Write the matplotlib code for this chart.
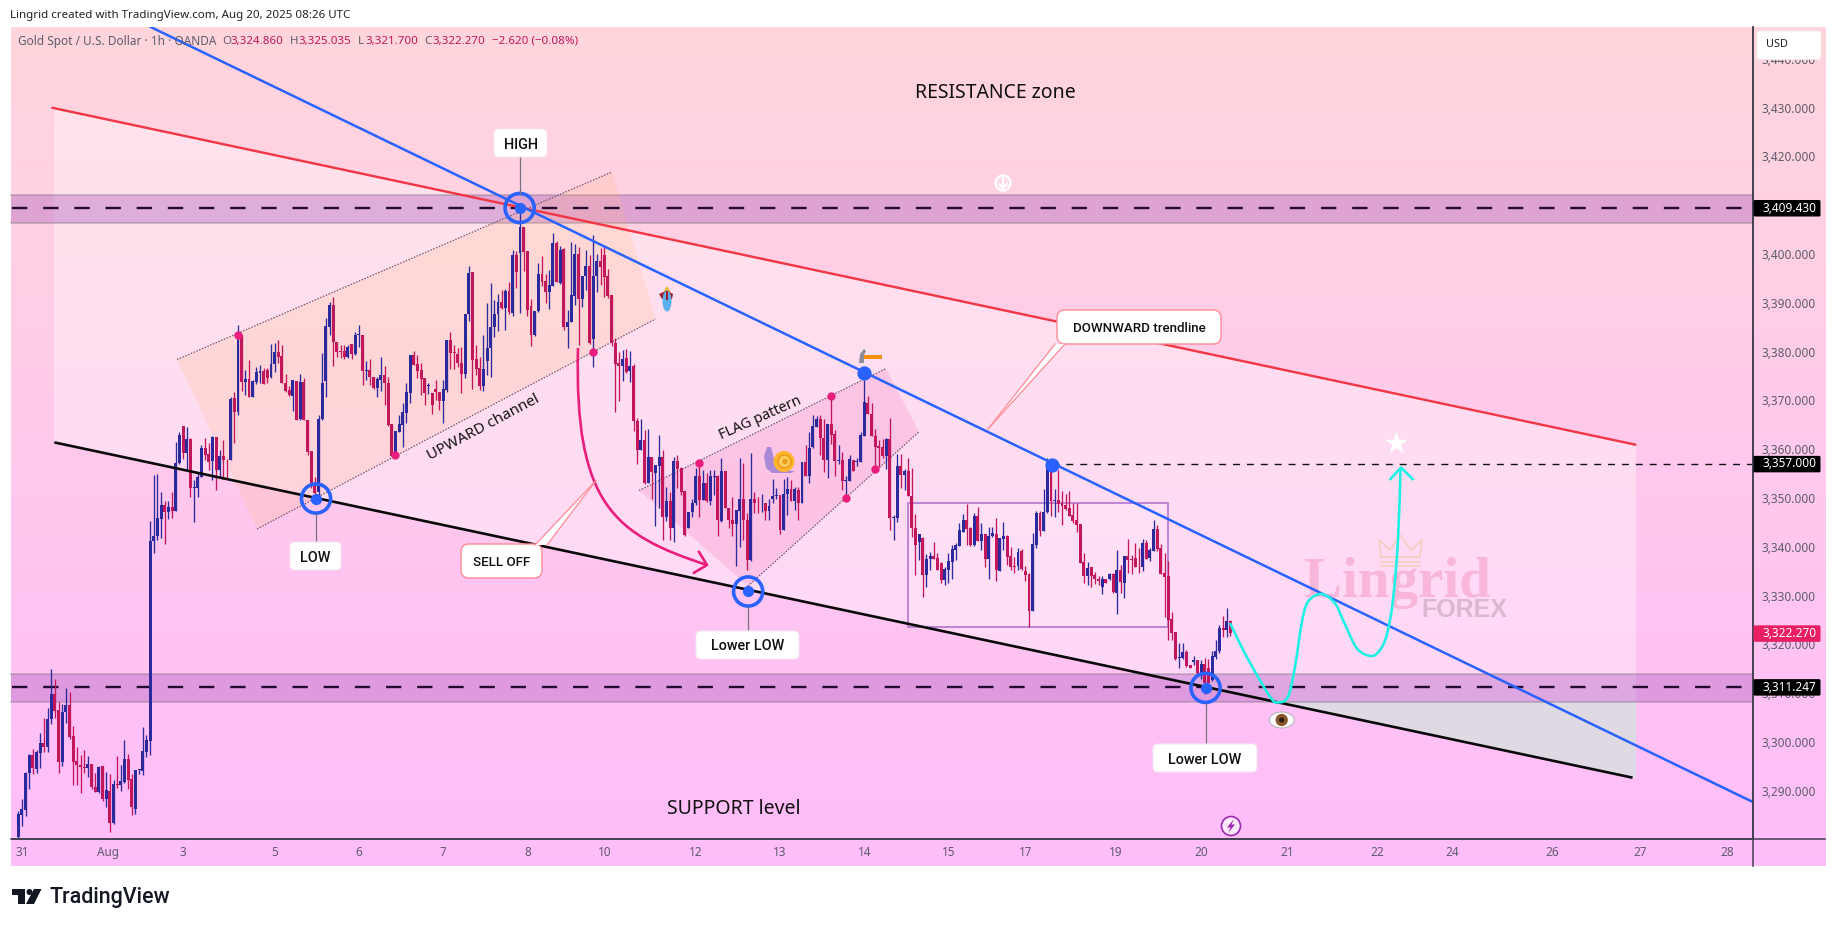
import numpy as np
import matplotlib
matplotlib.use("Agg")
import matplotlib.pyplot as plt
from matplotlib.patches import Polygon, Rectangle, FancyBboxPatch, Circle, Ellipse, PathPatch
from matplotlib.path import Path

plt.rcParams['font.family'] = ['Noto Sans', 'DejaVu Sans']

# ---- hourly candles ----
opens = [
3280.5,3285.1,3286.1,3293.6,3297.4,3294.5,3297.8,3299.7,3298.9,3304.7,
3309.9,3306.6,3296.0,3306.1,3307.6,3301.2,3296.1,3295.3,3294.9,3294.7,
3295.4,3290.7,3289.8,3295.1,3288.3,3290.0,3283.4,3291.5,3291.2,3291.9,
3296.5,3292.4,3286.3,3294.3,3294.1,3298.0,3300.3,3341.1,3342.2,3345.6,
3348.6,3347.2,3348.1,3347.4,3357.1,3364.8,3359.3,3362.1,3352.1,3352.1,
3354.4,3360.3,3359.0,3357.5,3362.6,3355.8,3358.6,3357.8,3357.8,3370.4,
3367.6,3383.4,3373.8,3374.4,3370.8,3373.8,3375.7,3376.0,3376.2,3374.7,
3377.4,3379.9,3379.1,3373.5,3372.1,3371.0,3374.0,3366.1,3373.7,3366.0,
3359.6,3352.7,3351.3,3366.1,3374.0,3385.1,3389.6,3382.0,3380.1,3380.1,
3379.0,3381.5,3379.5,3383.4,3383.4,3376.1,3376.2,3374.7,3372.5,3374.2,
3375.2,3373.5,3365.1,3358.8,3363.6,3365.0,3367.5,3371.6,3379.3,3377.5,
3376.2,3374.5,3373.0,3371.6,3372.3,3371.8,3369.9,3372.1,3382.4,3379.8,
3379.6,3377.6,3375.5,3387.8,3396.4,3378.5,3376.6,3373.0,3378.1,3380.7,
3385.0,3387.8,3390.1,3388.9,3392.4,3388.0,3399.9,3400.3,3405.5,3400.6,
3389.3,3383.4,3388.4,3396.0,3394.5,3392.3,3393.5,3402.3,3394.1,3401.0,
3385.0,3386.1,3391.5,3400.1,3390.7,3395.4,3397.5,3382.6,3395.4,3398.6,
3399.8,3395.4,3391.6,3381.7,3377.7,3377.1,3378.6,3376.0,3377.1,3365.8,
3359.8,3361.9,3353.1,3358.5,3355.2,3356.6,3358.5,3346.2,3349.4,3343.8,
3357.6,3356.1,3351.5,3343.8,3347.2,3348.9,3354.5,3349.6,3353.1,3349.3,
3354.4,3354.5,3345.2,3355.6,3347.9,3345.4,3344.6,3347.4,3349.7,3345.4,
3337.3,3349.7,3349.0,3348.9,3348.9,3347.4,3349.8,3350.5,3350.6,3343.4,
3350.8,3351.9,3349.4,3351.7,3349.0,3357.4,3354.6,3360.4,3364.6,3366.1,
3362.2,3357.8,3365.1,3363.1,3357.6,3357.8,3353.5,3353.5,3357.8,3357.3,
3357.4,3362.8,3369.4,3367.3,3362.8,3360.6,3360.4,3358.6,3362.1,3345.9,
3345.9,3356.6,3354.7,3355.5,3350.4,3343.9,3341.0,3341.9,3334.2,3337.5,
3338.1,3337.8,3336.7,3333.2,3335.2,3336.9,3339.4,3340.2,3343.1,3345.5,
3343.8,3340.4,3346.4,3341.2,3342.7,3337.5,3342.2,3342.6,3335.1,3341.6,
3342.3,3338.1,3336.0,3336.0,3339.1,3335.0,3334.4,3326.9,3340.4,3347.0,
3343.3,3347.1,3356.1,3349.4,3349.6,3348.9,3348.6,3347.9,3346.5,3345.5,
3344.7,3336.9,3334.0,3335.8,3334.2,3333.5,3331.7,3333.5,3333.4,3334.4,
3330.6,3335.2,3332.6,3338.1,3337.6,3337.8,3335.9,3335.9,3340.7,3337.8,
3339.2,3343.6,3339.7,3334.6,3334.0,3325.3,3322.5,3317.3,3317.3,3318.4,
3315.8,3316.4,3316.8,3314.2,3316.0,3315.1,3312.7,3317.5,3318.7,3323.4,3323.0,3324.86]
closes = [
3285.3,3286.3,3293.6,3297.4,3294.6,3298.0,3299.7,3298.9,3304.7,3309.9,
3306.4,3296.0,3306.1,3307.6,3301.1,3296.0,3295.2,3294.8,3294.7,3295.4,
3290.7,3289.8,3294.8,3288.3,3290.2,3283.5,3291.5,3291.2,3292.0,3296.5,
3292.2,3286.6,3294.3,3294.4,3298.2,3300.4,3341.2,3342.2,3345.9,3348.6,
3347.2,3348.1,3347.4,3357.1,3362.9,3359.2,3362.1,3352.1,3352.2,3354.4,
3360.3,3358.8,3357.4,3362.6,3355.8,3358.6,3357.8,3357.7,3370.3,3367.6,
3383.6,3373.8,3374.4,3370.8,3374.0,3375.9,3376.0,3373.4,3374.5,3377.5,
3379.9,3379.0,3373.6,3372.0,3371.1,3374.2,3366.0,3373.7,3366.0,3359.5,
3352.7,3351.1,3366.1,3373.5,3385.3,3389.6,3382.0,3380.0,3380.0,3379.0,
3381.0,3379.5,3383.4,3383.5,3376.1,3376.2,3374.7,3372.5,3374.3,3375.2,
3373.5,3365.0,3358.6,3363.8,3365.2,3367.6,3371.7,3379.3,3377.3,3376.1,
3374.4,3371.6,3373.2,3369.1,3371.8,3369.9,3372.3,3382.4,3379.7,3379.7,
3377.6,3375.5,3387.8,3396.2,3378.3,3376.4,3373.0,3376.4,3380.7,3385.0,
3387.8,3390.1,3388.9,3392.4,3388.2,3399.9,3396.4,3405.5,3400.5,3388.5,
3383.5,3388.3,3396.0,3394.3,3392.3,3393.7,3402.3,3394.3,3400.8,3385.1,
3386.0,3391.6,3400.1,3390.7,3395.5,3397.5,3381.7,3395.5,3398.6,3397.4,
3395.2,3391.3,3381.7,3377.5,3377.1,3378.5,3375.8,3377.1,3365.7,3359.8,
3361.9,3353.0,3358.5,3355.3,3356.8,3358.4,3346.2,3349.4,3343.8,3357.6,
3355.9,3351.3,3342.4,3347.2,3348.9,3354.5,3349.6,3353.0,3349.4,3354.5,
3354.5,3345.5,3355.6,3347.9,3345.4,3344.6,3347.5,3349.7,3345.4,3337.3,
3349.7,3348.9,3348.9,3349.0,3347.4,3348.4,3350.5,3350.6,3343.4,3350.8,
3351.9,3349.4,3351.9,3349.0,3357.4,3354.6,3360.2,3364.8,3366.2,3362.2,
3357.8,3365.1,3362.9,3357.6,3357.8,3353.5,3353.6,3358.0,3355.6,3357.6,
3362.9,3369.6,3367.3,3362.8,3360.5,3360.3,3358.6,3362.1,3345.9,3346.0,
3356.6,3354.7,3355.5,3350.4,3343.9,3340.4,3342.7,3334.2,3337.6,3338.1,
3337.6,3335.2,3333.2,3335.4,3337.1,3339.5,3340.4,3343.4,3345.5,3343.6,
3340.4,3346.4,3341.2,3342.6,3337.6,3342.2,3342.8,3335.2,3341.9,3342.2,
3338.0,3335.9,3335.9,3339.0,3335.4,3334.2,3326.9,3340.5,3346.9,3343.3,
3347.1,3356.4,3349.4,3349.6,3348.8,3348.4,3347.7,3346.3,3345.3,3344.5,
3336.7,3334.0,3335.6,3334.0,3333.5,3332.9,3333.5,3332.6,3334.4,3330.7,
3335.2,3332.8,3338.1,3337.4,3337.4,3335.8,3335.8,3340.7,3337.6,3339.3,
3343.6,3339.5,3334.4,3333.9,3325.0,3322.4,3317.1,3317.4,3318.4,3315.6,
3315.2,3316.9,3314.2,3316.0,3312.0,3312.0,3317.6,3318.7,3323.3,3323.0,3324.8,3322.27]
highs = [
3285.8,3288.3,3293.9,3297.6,3298.6,3298.4,3301.9,3304.9,3306.9,3315.0,
3312.9,3308.2,3307.7,3311.0,3310.2,3303.2,3299.0,3297.4,3298.4,3297.1,
3295.6,3293.6,3295.1,3295.1,3293.8,3293.5,3292.2,3297.2,3295.3,3300.4,
3297.6,3293.5,3294.3,3294.5,3303.0,3301.4,3345.3,3354.7,3355.0,3351.2,
3349.4,3349.4,3351.2,3361.4,3363.5,3364.8,3364.5,3362.4,3353.7,3355.3,
3360.9,3362.2,3361.2,3362.8,3362.6,3359.9,3361.9,3358.0,3370.8,3371.8,
3385.5,3383.4,3376.2,3378.3,3374.2,3376.9,3377.3,3376.6,3376.6,3381.6,
3381.7,3382.4,3381.4,3375.4,3372.9,3374.2,3374.0,3375.4,3374.5,3366.0,
3359.6,3354.4,3367.0,3379.8,3386.8,3390.2,3391.2,3382.0,3381.4,3381.4,
3381.4,3381.5,3384.1,3385.5,3383.4,3378.0,3378.4,3374.8,3374.8,3378.9,
3377.1,3374.9,3365.2,3363.8,3367.0,3369.4,3373.5,3379.3,3380.1,3379.3,
3377.6,3374.5,3373.5,3371.6,3374.2,3371.8,3374.2,3382.4,3384.1,3381.4,
3380.7,3381.0,3387.8,3397.5,3396.4,3381.4,3378.8,3383.4,3389.9,3394.0,
3390.6,3391.9,3392.6,3392.8,3394.2,3400.8,3400.6,3409.4,3405.5,3400.6,
3390.7,3388.3,3398.2,3399.6,3396.0,3396.7,3404.4,3402.7,3401.6,3401.2,
3388.5,3402.5,3402.0,3401.4,3395.5,3400.8,3399.8,3403.9,3400.1,3401.2,
3401.6,3397.0,3391.6,3382.7,3379.9,3380.3,3380.5,3380.1,3377.4,3366.3,
3366.2,3364.0,3364.1,3358.5,3356.8,3362.9,3359.8,3352.3,3351.3,3358.5,
3358.8,3356.4,3351.5,3347.2,3349.7,3356.1,3357.1,3355.7,3355.2,3355.7,
3355.7,3354.8,3358.1,3355.6,3347.9,3350.3,3347.5,3358.1,3357.1,3346.9,
3359.2,3351.3,3350.2,3350.8,3348.9,3349.9,3353.8,3352.0,3350.6,3354.0,
3354.4,3353.7,3352.3,3352.3,3357.4,3360.9,3363.6,3367.0,3366.8,3367.0,
3366.1,3365.1,3370.9,3363.9,3360.9,3359.5,3354.5,3358.8,3357.8,3358.1,
3363.6,3374.2,3370.9,3369.4,3364.1,3361.9,3362.0,3362.4,3366.5,3346.6,
3359.1,3359.1,3356.0,3358.3,3356.1,3346.7,3342.7,3342.0,3338.5,3339.0,
3340.9,3338.7,3336.9,3335.9,3338.8,3340.4,3340.8,3344.8,3346.7,3348.7,
3344.1,3346.9,3348.1,3344.9,3342.7,3344.0,3344.1,3346.0,3341.9,3345.1,
3342.4,3340.0,3338.0,3339.7,3339.5,3336.0,3334.6,3342.8,3347.3,3347.3,
3351.8,3358.3,3357.8,3351.8,3355.7,3351.5,3350.9,3351.5,3348.9,3348.9,
3344.7,3338.8,3336.9,3335.9,3334.9,3334.0,3334.0,3333.5,3334.7,3334.6,
3339.3,3336.2,3338.1,3341.6,3338.3,3340.8,3339.7,3341.7,3341.4,3339.7,
3345.5,3344.5,3340.6,3338.8,3337.0,3326.6,3322.5,3320.2,3320.2,3318.9,
3315.8,3317.6,3316.8,3316.9,3317.2,3317.1,3318.7,3320.9,3324.0,3325.8,3327.4,3325.035]
lows = [
3280.0,3282.8,3284.9,3290.4,3293.5,3293.6,3294.6,3297.9,3297.9,3303.7,
3304.9,3293.7,3295.0,3304.0,3300.7,3291.2,3291.2,3289.6,3293.6,3292.9,
3290.4,3289.8,3289.5,3288.0,3286.6,3281.6,3283.2,3290.5,3290.0,3291.7,
3290.4,3285.1,3285.3,3293.5,3293.3,3297.0,3297.4,3338.8,3341.5,3341.8,
3340.6,3345.8,3346.0,3347.4,3357.0,3358.0,3355.8,3350.3,3345.0,3350.3,
3354.4,3357.7,3355.8,3353.6,3351.7,3354.4,3354.0,3354.0,3357.7,3361.2,
3367.0,3372.0,3371.1,3370.6,3370.6,3373.4,3373.5,3373.4,3373.6,3374.6,
3375.9,3377.6,3373.6,3371.8,3370.9,3367.8,3365.9,3366.0,3366.0,3358.8,
3352.0,3350.6,3350.3,3366.0,3370.6,3383.4,3377.1,3379.0,3378.6,3378.4,
3378.6,3378.4,3379.3,3381.0,3373.1,3374.2,3373.1,3372.3,3370.8,3372.0,
3369.1,3364.8,3358.5,3358.5,3363.6,3360.4,3365.4,3369.4,3377.2,3374.5,
3371.1,3369.1,3371.4,3367.2,3370.1,3368.0,3365.3,3371.8,3376.4,3376.4,
3376.8,3371.6,3374.5,3386.3,3372.3,3375.2,3372.1,3371.9,3375.2,3374.9,
3382.9,3384.3,3388.7,3384.4,3387.7,3387.4,3393.0,3388.0,3396.6,3387.2,
3381.2,3383.2,3388.2,3393.4,3390.0,3388.7,3393.4,3394.3,3393.9,3384.4,
3380.7,3386.0,3389.6,3381.4,3389.1,3392.6,3381.5,3376.8,3392.3,3393.6,
3391.1,3390.9,3381.1,3367.7,3369.9,3374.0,3375.7,3373.8,3363.8,3357.0,
3359.8,3352.9,3353.0,3349.7,3344.3,3347.9,3341.4,3345.2,3341.4,3341.0,
3352.0,3350.6,3342.2,3343.8,3346.2,3348.6,3346.2,3349.6,3349.2,3348.6,
3350.6,3342.3,3345.1,3347.9,3343.8,3342.3,3336.1,3340.0,3341.4,3335.3,
3337.0,3346.9,3346.9,3347.2,3345.5,3345.5,3349.0,3349.7,3342.6,3343.4,
3346.5,3349.4,3347.5,3345.5,3348.9,3354.6,3353.0,3360.2,3364.5,3358.8,
3355.4,3354.2,3361.0,3354.5,3357.0,3351.6,3350.1,3353.4,3355.6,3356.5,
3357.3,3362.7,3367.3,3362.8,3356.1,3356.4,3358.1,3355.9,3343.4,3341.4,
3345.1,3352.0,3351.6,3350.4,3342.1,3334.2,3337.3,3329.8,3331.8,3335.2,
3337.6,3335.2,3332.5,3332.2,3332.5,3333.5,3337.3,3340.2,3343.0,3340.4,
3340.2,3340.2,3341.2,3339.3,3335.9,3333.5,3342.0,3333.0,3335.0,3339.3,
3336.3,3335.2,3334.7,3335.2,3335.2,3333.1,3323.6,3326.9,3339.7,3342.2,
3343.3,3346.9,3346.4,3346.2,3347.2,3344.5,3347.5,3346.3,3344.8,3343.1,
3336.6,3332.6,3332.2,3331.8,3332.4,3332.2,3330.3,3332.6,3333.2,3330.5,
3326.2,3330.5,3329.6,3334.6,3334.4,3335.8,3334.7,3335.1,3337.6,3337.0,
3339.2,3339.2,3334.4,3325.7,3320.9,3320.9,3316.9,3315.1,3317.1,3315.4,
3315.1,3315.8,3313.7,3313.0,3309.9,3310.2,3312.5,3317.1,3318.2,3321.6,3321.6,3321.7]

# ---- axis labels ----
time_labels = ['31','Aug','3','5','6','7','8','10','12','13','14','15','17','19','20','21','22','24','26','27','28']
time_idx = [1,24.4,45,70,93,116,139,160,185,208,231,254,275,299.6,323,346.5,371,391.6,419,443,466.6]
price_ticks = list(range(3290, 3450, 10))

# ---- levels and trendlines (bar index, price) ----
level_high, level_low, level_target, last_close = 3409.43, 3311.247, 3357.0, 3322.27
red_x, red_y = [9.06, 441.8], [3430.0, 3360.9]
black_x, black_y = [9.83, 440.8], [3361.4, 3292.7]
blue_x, blue_y = [36.2, 473.7], [3446.5, 3287.7]
ring_x, ring_y = [136.9, 81.3, 199.3, 324.2], [3409.43, 3349.9, 3330.85, 3311.1]
bdot_x, bdot_y = [231.0, 282.2], [3375.6, 3356.7]
pdot_x = [60.1, 103, 157, 186, 222, 226, 234]
pdot_y = [3383.5, 3358.8, 3379.9, 3357.1, 3371.0, 3350.1, 3355.9]

W, H = 1835, 927
UP, DOWN = '#2a2a9c', '#c2185b'
fig = plt.figure(figsize=(W/100, H/100), dpi=100, facecolor='white')

def full_ax(z):
    a = fig.add_axes([0, 0, 1, 1], zorder=z)
    a.set_xlim(0, W); a.set_ylim(H, 0); a.axis('off'); a.patch.set_alpha(0)
    return a

bg = full_ax(0)
ov = full_ax(5)

# gradient panel
grad = np.zeros((256, 1, 3))
c0, c1 = np.array([255, 214, 220])/255, np.array([255, 189, 251])/255
for i in range(256):
    grad[i, 0] = c0 + (c1-c0)*i/255
bg.imshow(grad, extent=(11, 1825, 866, 27), aspect='auto', zorder=0)
bg.set_xlim(0, W); bg.set_ylim(H, 0)

# wedge between the red and black lines
bg.add_patch(Polygon([(54,108),(1636,445),(1636,778),(54,442)], fc='white', alpha=.36, ec='none', zorder=1))
bg.add_patch(Polygon([(1278,702),(1636,702),(1636,778)], fc='#dfd9e3', ec='none', zorder=1.5))
# zones: fill plus rules on the long sides only
for top, bot in [(195, 222.7), (674.3, 701.7)]:
    bg.add_patch(Rectangle((11, top), 1742, bot-top, fc=(160/255, 72/255, 183/255, .33), ec='none', zorder=2))
    bg.plot([11, 1753], [top, top], color=(110/255, 110/255, 120/255, .4), lw=1.2, zorder=2.1)
    bg.plot([11, 1753], [bot, bot], color=(110/255, 110/255, 120/255, .4), lw=1.2, zorder=2.1)
# upward channel, flag, range box
chan = [(177,359.5),(612,172),(655.5,319),(257,529)]
bg.add_patch(Polygon(chan, fc=(255/255, 180/255, 110/255, .18), ec='none', zorder=3))
flag = [(639,490.5),(886,368.5),(919,431.8),(748,586)]
bg.add_patch(Polygon(flag, fc=(240/255, 90/255, 170/255, .18), ec='none', zorder=3))
for a, b in [(chan[0], chan[1]), (chan[3], chan[2]), (flag[0], flag[1]), (flag[3], flag[2])]:
    bg.plot([a[0], b[0]], [a[1], b[1]], color='#6f5a6f', lw=.9, ls=(0, (1.2, 1.2)), zorder=4)
bg.add_patch(Rectangle((908.3, 503.3), 260, 124, fc=(1, 1, 1, .16), ec='#bd84d4', lw=1.4, zorder=3))

# watermark
bg.text(1304, 597, 'Lingrid', family='Liberation Serif', weight='bold', fontsize=41, color='#f8b6d8', ha='left', va='baseline', zorder=4)
bg.text(1421, 617, 'FOREX', family='Liberation Sans', weight='bold', fontsize=18, color='#d9b9cf', ha='left', va='baseline', zorder=4)
bg.plot([1381,1379,1390,1400,1411,1422,1420,1381], [557,540,550,535,550,540,557,557], color='#f5cdbf', lw=1.2, zorder=4)
bg.plot([1381,1420], [561.5,561.5], color='#f5cdbf', lw=1.2, zorder=4)
bg.plot([1381,1420], [566,566], color='#f5cdbf', lw=1.2, zorder=4)

# ---- price chart ----
ax = fig.add_axes([12/W, 1-839/H, (1753-12)/W, (839-27)/H], zorder=1)
ax.patch.set_alpha(0)
ax.set_xlim(-1.72, 473.7)
ax.set_ylim(3280.13, 3446.52)
for s in ('top', 'left'):
    ax.spines[s].set_visible(False)
for s in ('right', 'bottom'):
    ax.spines[s].set_color('#3d3d4d'); ax.spines[s].set_linewidth(1.1)

ax.hlines([level_high, level_low], -1.72, 473.7, color='#220a30', lw=1.7, ls=(0, (6.5, 6.7)), zorder=1.5)
ax.plot([282.2, 473.7], [level_target, level_target], color='#111111', lw=1.0, ls=(0, (5, 5)), zorder=1.5)

o, c, h, l = map(np.array, (opens, closes, highs, lows))
xs = np.arange(len(o))
cols = [UP if cc >= oo else DOWN for oo, cc in zip(o, c)]
ax.vlines(xs, l, h, colors=cols, lw=.95, zorder=2)
ax.bar(xs, np.maximum(np.abs(c-o), .15), bottom=np.minimum(o, c), width=.8, color=cols, lw=0, zorder=2.1)

ax.plot(red_x, red_y, color='#f23645', lw=1.7, zorder=3, solid_capstyle='butt')
ax.plot(black_x, black_y, color='#0a0a0a', lw=1.9, zorder=3, solid_capstyle='butt')
ax.plot(blue_x, blue_y, color='#2962ff', lw=1.8, zorder=3)

ax.scatter(pdot_x, pdot_y, s=36, color='#e91e7d', lw=0, zorder=4)
ax.scatter(bdot_x, bdot_y, s=105, color='#2962ff', lw=0, zorder=4.5)
ax.scatter(ring_x, ring_y, s=66, color='#2962ff', lw=0, zorder=4.5)
ax.scatter(ring_x, ring_y, s=440, facecolor='none', edgecolor='#2962ff', lw=2.6, zorder=4.5)

ax.yaxis.tick_right()
ax.set_yticks(price_ticks)
ax.set_yticklabels([f'{p:,}.000' for p in price_ticks], va='center_baseline')
ax.set_xticks(time_idx)
ax.set_xticklabels(time_labels)
ax.tick_params(axis='y', length=0, pad=6.4, labelsize=8.5, labelcolor='#5c5c6b')
ax.tick_params(axis='x', length=0, pad=5.0, labelsize=8.5, labelcolor='#5c5c6b')

# ---- overlay: rules, labels, callouts, drawings ----
ov.plot([11, 1825], [839, 839], color='#3d3d4d', lw=1.1, zorder=1)
ov.plot([1753, 1753], [27, 866], color='#3d3d4d', lw=1.1, zorder=1)

def box(x0, y0, x1, y1, ec='#f6e6f2', r=5, lw=.8):
    ov.add_patch(FancyBboxPatch((x0+r, y0+r), x1-x0-2*r, y1-y0-2*r, boxstyle=f'round,pad={r},rounding_size={r}',
                                fc='white', ec=ec, lw=lw, zorder=6))

def label(txt, x0, y0, x1, y1, **kw):
    box(x0, y0, x1, y1, **kw)
    ov.text((x0+x1)/2, (y0+y1)/2, txt, ha='center', va='center_baseline', fontsize=10.4, family='Roboto', weight='medium', color='#111111', zorder=8)

def stem(x, y0, y1):
    ov.plot([x, x], [y0, y1], color='#77727f', lw=.9, zorder=2)

stem(520, 157, 194); stem(316, 514, 542); stem(748, 607, 631); stem(1205.5, 704, 744)
label('HIGH', 494, 129, 547, 157)
label('LOW', 290, 542, 341, 570)
label('Lower LOW', 696, 631, 799, 659)
label('Lower LOW', 1153, 744, 1257, 772)

def callout(txt, rect, tail):
    box(*rect, ec='#ff8a98', r=8, lw=1.0)
    ov.add_patch(Polygon(tail, fc='white', ec='none', zorder=7))
    ov.plot([tail[0][0], tail[1][0]], [tail[0][1], tail[1][1]], color='#ff8a98', lw=.9, zorder=7.5)
    ov.plot([tail[1][0], tail[2][0]], [tail[1][1], tail[2][1]], color='#ff8a98', lw=.9, zorder=7.5)
    ov.text((rect[0]+rect[2])/2, (rect[1]+rect[3])/2, txt, ha='center', va='center_baseline', fontsize=9.6, family='Roboto', weight='medium', color='#111111', zorder=8)

callout('SELL OFF', (461, 544, 542, 578), [(535, 545), (596, 480.5), (547, 545)])
callout('DOWNWARD trendline', (1057, 310, 1221, 344), [(1055, 344), (988, 429), (1065, 344)])

ov.text(995, 93, 'RESISTANCE zone', ha='center', va='center', fontsize=14, color='#111111')
ov.text(734, 809, 'SUPPORT level', ha='center', va='center', fontsize=14, color='#111111')
ov.text(483, 428, 'UPWARD channel', ha='center', va='center', rotation=28, fontsize=10.9, color='#111111', zorder=4)
ov.text(760, 418, 'FLAG pattern', ha='center', va='center', rotation=24, fontsize=10.3, color='#111111', zorder=4)

# sell-off arrow
P = Path([(578,348),(574,505),(615,535),(707,565)], [Path.MOVETO, Path.CURVE4, Path.CURVE4, Path.CURVE4])
ov.add_patch(PathPatch(P, fc='none', ec='#e91e7d', lw=1.9, zorder=3))
ov.plot([694,707,699], [572.7,565,552], color='#e91e7d', lw=1.9, zorder=3)

# projected path (smooth curve through points)
route = np.array([(1230,623),(1246.7,656.7),(1270,696.7),(1278,702.3),(1288,696.7),(1295,666.7),(1301.7,623),
                  (1308,601.7),(1321.7,594),(1335,603.3),(1343,620),(1356.7,648),(1371,656),(1380,650),
                  (1387,634),(1393,600),(1398,540),(1400.5,468)], dtype=float)
verts, codes = [route[0]], [Path.MOVETO]
for i in range(len(route)-1):
    p0 = route[max(i-1, 0)]; p1 = route[i]; p2 = route[i+1]; p3 = route[min(i+2, len(route)-1)]
    verts += [p1+(p2-p0)/6, p2-(p3-p1)/6, p2]; codes += [Path.CURVE4]*3
ov.add_patch(PathPatch(Path(verts, codes), fc='none', ec='#1ff0e4', lw=1.9, zorder=3))
ov.plot([1390.5,1401,1412.5], [479,467.5,479], color='#1ff0e4', lw=1.9, zorder=3)

# small icons
ov.scatter([1396], [443], marker='*', s=300, color='white', lw=0, zorder=3)
ov.add_patch(Circle((1003,183), 7.5, fc=(1,1,1,.25), ec='white', lw=1.6, zorder=3))
ov.plot([1003,1003], [178,188], color='white', lw=1.5, zorder=3)
ov.plot([999,1003,1007], [184,188,184], color='white', lw=1.5, zorder=3)
ov.add_patch(Circle((1231,826), 9.5, fc='#fde8fb', ec='#9c27b0', lw=1.2, zorder=3))
ov.add_patch(Polygon([(1234,819),(1227,827.5),(1230.5,827.5),(1228,833),(1235,824.5),(1231.5,824.5)], fc='#9c27b0', ec='none', zorder=3.1))
# eye
ov.add_patch(Ellipse((1281.7,720), 25, 16, fc='white', ec='#b9b2b9', lw=.8, zorder=3))
ov.add_patch(Circle((1281.7,720), 6.2, fc='#8a5a2b', ec='none', zorder=3.1))
ov.add_patch(Circle((1281.7,720), 2.6, fc='#2a1a10', ec='none', zorder=3.2))
# hammer
ov.add_patch(Rectangle((862,355), 20, 3.8, fc='#f5900c', ec='none', zorder=5))
ov.add_patch(Polygon([(859,363),(860,354),(864,349),(866,351),(864,355),(864,363)], fc='#8a9096', ec='none', zorder=5))
# rocket
ov.add_patch(Polygon([(667,286),(670.5,292),(663.5,292)], fc='#fbb12e', ec='none', zorder=3))
ov.add_patch(Polygon([(659,294),(666,291),(668,291),(673,294),(672,299),(662,299)], fc='#9c1f2b', ec='none', zorder=3))
ov.add_patch(Ellipse((667,301), 9, 21, fc='#5ab0ea', ec='none', zorder=3.1))
ov.add_patch(Rectangle((666,291), 2, 9, fc='#9c1f2b', ec='none', zorder=3.2))
# snail
ov.add_patch(Polygon([(764,456),(767,447),(771,447),(773,455),(775,463),(782,469),(795,471.5),(791,473),(772,473),(766,468)], fc='#a98ad8', ec='none', zorder=3))
ov.add_patch(Circle((784,461.5), 10.5, fc='#fdb62e', ec='none', zorder=3.1))
ov.add_patch(Circle((784.5,461.5), 6.5, fc='#f7cc58', ec='#f09a1a', lw=1.2, zorder=3.2))
ov.add_patch(Circle((785,461.5), 2.6, fc='#f09a1a', ec='none', zorder=3.3))

# price tags
ov.add_patch(FancyBboxPatch((1759, 33), 60, 24.5, boxstyle='round,pad=2,rounding_size=3', fc='white', ec='#f6e6ee', lw=.6, zorder=6))
ov.text(1766, 44.5, 'USD', ha='left', va='center', fontsize=7.9, color='#222222', zorder=7)

def tag(price, txt, fc):
    ypx = 208 + (level_high-price)*4.88
    ov.add_patch(FancyBboxPatch((1753.5, ypx-8), 67, 16.5, boxstyle='round,pad=0,rounding_size=1.5', fc=fc, ec='none', zorder=6))
    ov.text(1762, ypx, txt, ha='left', va='center', fontsize=8.5, color='white', zorder=7)

for price, fc in [(level_high, 'black'), (level_target, 'black'), (level_low, 'black'), (last_close, '#e91e63')]:
    tag(price, f'{price:,.3f}', fc)

# header
ov.text(10, 15, 'Lingrid created with TradingView.com, Aug 20, 2025 08:26 UTC', ha='left', va='center', fontsize=8.3, color='#222222')
ov.text(18, 41, 'Gold Spot / U.S. Dollar · 1h · OANDA', ha='left', va='center', fontsize=8.5, color='#5c5c6b', zorder=4)
VAL = '#c2185b'
for px, t, col in [(222,'O','#5c5c6b'),(230,'3,324.860',VAL),(290,'H','#5c5c6b'),(298,'3,325.035',VAL),
                   (358,'L','#5c5c6b'),(365,'3,321.700',VAL),(424,'C','#5c5c6b'),(432,'3,322.270',VAL),
                   (492,'−2.620 (−0.08%)',VAL)]:
    ov.text(px, 41, t, ha='left', va='center', fontsize=8.3, color=col, zorder=4)

# TradingView logo
ov.add_patch(Polygon([(11.5,889),(25,889),(25,904),(18,904),(18,895),(11.5,895)], fc='#131722', ec='none'))
ov.add_patch(Circle((29.5,892), 3, fc='#131722', ec='none'))
ov.add_patch(Polygon([(34,889),(41.5,889),(34,904),(26,904)], fc='#131722', ec='none'))
ov.text(49, 897, 'TradingView', ha='left', va='center', fontsize=15.5, family='Roboto', weight='medium', color='#131722')

fig.savefig('out.png', dpi=100, facecolor='white')
